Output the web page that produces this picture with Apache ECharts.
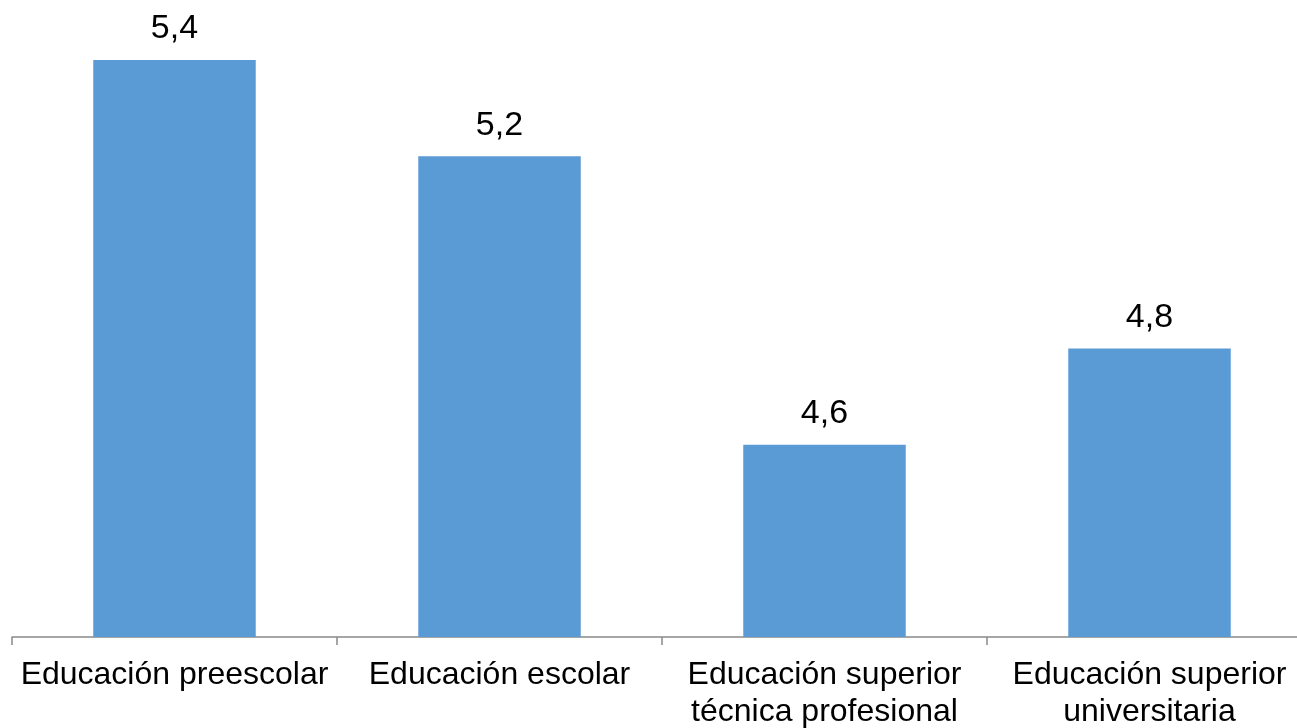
<!DOCTYPE html>
<html><head><meta charset="utf-8">
<script src="https://cdn.jsdelivr.net/npm/echarts@6/dist/echarts.min.js"></script>
<style>html,body{margin:0;padding:0;background:#fff}#c{width:1297px;height:728px}</style>
</head><body><div id="c"></div>
<script>
const categories = ["Educación preescolar", "Educación escolar", "Educación superior\ntécnica profesional", "Educación superior\nuniversitaria"];
const values = [5.4, 5.2, 4.6, 4.8];
const chart = echarts.init(document.getElementById('c'), null, {renderer: 'canvas'});
chart.setOption({
  animation: false,
  backgroundColor: '#ffffff',
  grid: {left: 12, top: 60, bottom: 91, right: -15, outerBoundsMode: 'none', containLabel: false},
  xAxis: {
    type: 'category', data: categories,
    axisLine: {lineStyle: {color: '#898989', width: 1.5}},
    axisTick: {show: true, length: 8, lineStyle: {color: '#898989', width: 1.5}},
    axisLabel: {interval: 0, color: '#000', fontFamily: 'Liberation Sans', fontSize: 32, lineHeight: 37, margin: 20}
  },
  yAxis: {type: 'value', min: 4.2, max: 5.4, show: false, splitLine: {show: false}},
  series: [{
    type: 'bar', data: values, barWidth: '50%',
    itemStyle: {color: '#5B9BD5'},
    label: {show: true, position: 'top', distance: 14, color: '#000', fontFamily: 'Liberation Sans', fontSize: 34,
      formatter: p => String(p.value).replace('.', ',')}
  }]
});
</script></body></html>
